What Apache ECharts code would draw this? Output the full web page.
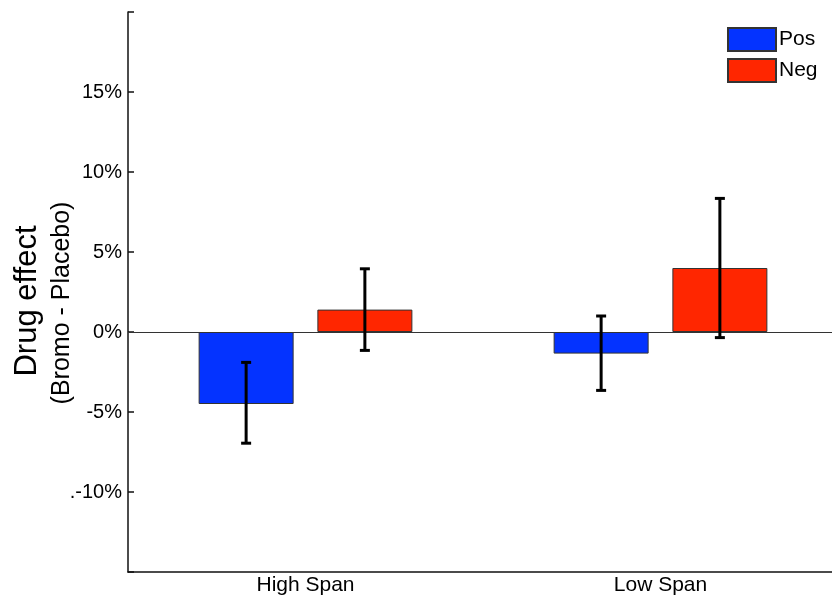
<!DOCTYPE html>
<html>
<head>
<meta charset="utf-8">
<script src="https://cdn.jsdelivr.net/npm/echarts@6/dist/echarts.min.js"></script>
<style>
    html, body { margin: 0; padding: 0; background: #fff; overflow: hidden; }
    #chart { width: 838px; height: 597px; }
</style>
</head>
<body>
<div id="chart"></div>
<script>
const categories = ['High Span', 'Low Span'];
const seriesNames = ['Pos', 'Neg'];
const posMean = [-4.5, -1.35];
const posLow = [-6.95, -3.65];
const posHigh = [-1.9, 1.0];
const negMean = [1.4, 4.0];
const negLow = [-1.15, -0.35];
const negHigh = [3.95, 8.35];
const yTickLabels = { '15': '15%', '10': '10%', '5': '5%', '0': '0%', '-5': '-5%', '-10': '.-10%' };

const font = 'Liberation Sans, Arial, Helvetica, sans-serif';
const colors = ['#0433ff', '#ff2600'];
const barW = 95;
const barGap = 0.25;

// the plot runs a few px past the right edge of the window, as in the original
const chart = echarts.init(document.getElementById('chart'));

// error bars are drawn on top of the bars, shifted to each bar's centre
function errorSeries(low, high, side) {
    const data = low.map((l, i) => [i, l, high[i]]);
    return {
        type: 'custom',
        z: 10,
        silent: true,
        clip: false,
        data: data,
        renderItem: (params, api) => {
            const dx = side * (barW + barW * barGap) / 2;
            const lo = api.coord([api.value(0), api.value(1)]);
            const hi = api.coord([api.value(0), api.value(2)]);
            const x = lo[0] + dx;
            const cap = 5;
            const style = { stroke: '#000', lineWidth: 3 };
            return {
                type: 'group',
                children: [
                    { type: 'line', shape: { x1: x, y1: lo[1], x2: x, y2: hi[1] }, style: style },
                    { type: 'line', shape: { x1: x - cap, y1: lo[1], x2: x + cap, y2: lo[1] }, style: style },
                    { type: 'line', shape: { x1: x - cap, y1: hi[1], x2: x + cap, y2: hi[1] }, style: style },
                ],
            };
        },
    };
}

const axisLineStyle = { color: '#111', width: 1.5 };

chart.setOption({
    animation: false,
    textStyle: { fontFamily: font },
    grid: { left: 128, right: 0, top: 12, bottom: 25 },
    legend: {
        data: seriesNames,
        orient: 'vertical',
        left: 727,
        top: 27,
        icon: 'rect',
        itemWidth: 48,
        itemHeight: 23,
        itemGap: 6,
        padding: 0,
        textStyle: { fontSize: 21, color: '#000', fontFamily: font, padding: [0, 0, 0, -2] },
    },
    graphic: [
        {
            type: 'text',
            x: 27,
            y: 301,
            rotation: Math.PI / 2,
            style: {
                text: 'Drug effect',
                font: '31px ' + font,
                fill: '#000',
                textAlign: 'center',
                textVerticalAlign: 'middle',
            },
        },
        {
            type: 'text',
            x: 62,
            y: 303,
            rotation: Math.PI / 2,
            style: {
                text: '(Bromo - Placebo)',
                font: '25px ' + font,
                fill: '#000',
                textAlign: 'center',
                textVerticalAlign: 'middle',
            },
        },
    ],
    xAxis: {
        type: 'category',
        data: categories,
        axisLine: { onZero: false, lineStyle: axisLineStyle },
        axisTick: { inside: true, length: 8, alignWithLabel: true, lineStyle: axisLineStyle },
        axisLabel: { fontSize: 21, color: '#000', margin: 3, fontFamily: font },
        splitLine: { show: false },
    },
    yAxis: {
        type: 'value',
        min: -15,
        max: 20,
        interval: 5,
        axisLine: { show: true, lineStyle: axisLineStyle },
        axisTick: { show: true, inside: true, length: 6, lineStyle: axisLineStyle },
        axisLabel: {
            fontSize: 20,
            color: '#000',
            margin: 6,
            fontFamily: font,
            formatter: (v) => yTickLabels[String(v)] || '',
        },
        splitLine: { show: false },
    },
    series: [
        {
            name: 'Pos',
            type: 'bar',
            data: posMean,
            barWidth: barW,
            barGap: (barGap * 100) + '%',
            itemStyle: { color: colors[0], borderColor: '#333', borderWidth: 1 },
            markLine: {
                silent: true,
                symbol: 'none',
                label: { show: false },
                lineStyle: { color: '#333', width: 1.2, type: 'solid' },
                data: [{ yAxis: 0 }],
            },
        },
        {
            name: 'Neg',
            type: 'bar',
            data: negMean,
            barWidth: barW,
            barGap: (barGap * 100) + '%',
            itemStyle: { color: colors[1], borderColor: '#333', borderWidth: 1 },
        },
        errorSeries(posLow, posHigh, -1),
        errorSeries(negLow, negHigh, 1),
    ],
});
</script>
</body>
</html>
